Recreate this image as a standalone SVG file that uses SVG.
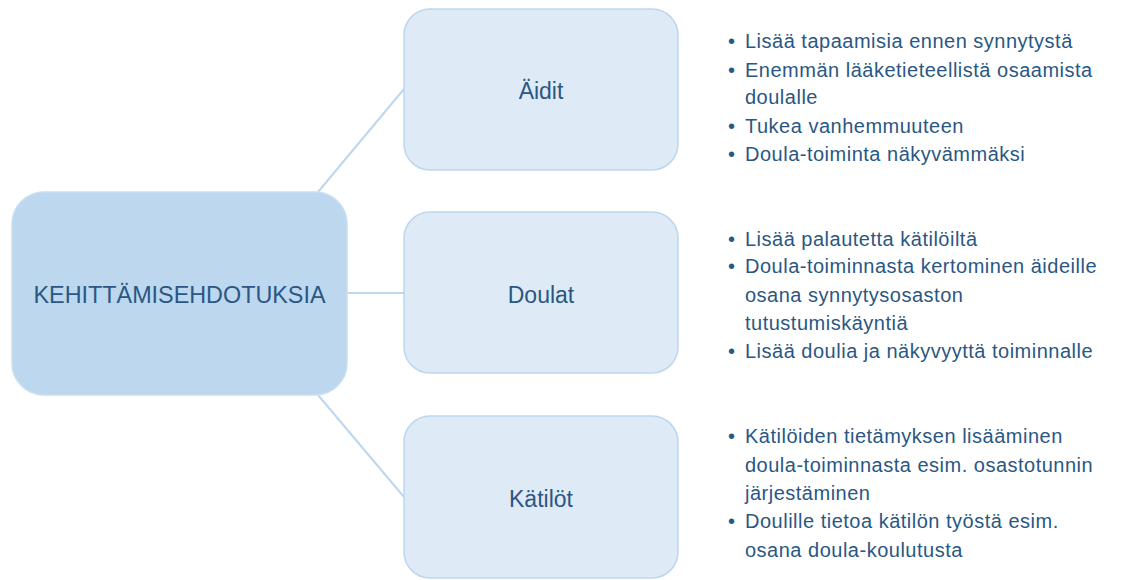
<svg xmlns="http://www.w3.org/2000/svg" width="1122" height="580" viewBox="0 0 1122 580">
<style>
.main{fill:#BDD7EE;stroke:#C9DEF1;stroke-width:1.5}
.sub{fill:#DEEAF6;stroke:#BDD7EE;stroke-width:1.5}
.lbl{font-family:"Liberation Sans",Arial,sans-serif;fill:#2A5783;text-anchor:middle}
.bul{font-family:"Liberation Sans",Arial,sans-serif;fill:#2A5783;font-size:20px;letter-spacing:0.5px}
.con{stroke:#BDD7EE;stroke-width:2;fill:none}
</style>
<rect width="1122" height="580" fill="#FFFFFF"/>
<g id="connectors">
<line class="con" x1="318" y1="192" x2="404" y2="89"/>
<line class="con" x1="347" y1="293" x2="404" y2="293"/>
<line class="con" x1="318" y1="395" x2="404" y2="497"/>
</g>
<g id="root">
<rect class="main" x="12" y="192" width="335" height="203" rx="32"/>
<text class="lbl" x="179.5" y="303" font-size="24" textLength="292" lengthAdjust="spacingAndGlyphs">KEHITTÄMISEHDOTUKSIA</text>
</g>
<g id="aidit">
<rect class="sub" x="404" y="9" width="274" height="161" rx="26"/>
<text class="lbl" x="541" y="99" font-size="23">Äidit</text>
</g>
<g id="doulat">
<rect class="sub" x="404" y="212" width="274" height="161" rx="26"/>
<text class="lbl" x="541" y="303" font-size="23">Doulat</text>
</g>
<g id="katilot">
<rect class="sub" x="404" y="416" width="274" height="162" rx="26"/>
<text class="lbl" x="541" y="507" font-size="23">Kätilöt</text>
</g>
<g id="aidit-list" class="bul">
<text x="728" y="48">•</text><text x="745" y="48">Lisää tapaamisia ennen synnytystä</text>
<text x="728" y="77">•</text><text x="745" y="77">Enemmän lääketieteellistä osaamista</text>
<text x="745" y="104">doulalle</text>
<text x="728" y="133">•</text><text x="745" y="133">Tukea vanhemmuuteen</text>
<text x="728" y="161">•</text><text x="745" y="161">Doula-toiminta näkyvämmäksi</text>
</g>
<g id="doulat-list" class="bul">
<text x="728" y="246">•</text><text x="745" y="246">Lisää palautetta kätilöiltä</text>
<text x="728" y="273">•</text><text x="745" y="273">Doula-toiminnasta kertominen äideille</text>
<text x="745" y="302">osana synnytysosaston</text>
<text x="745" y="330">tutustumiskäyntiä</text>
<text x="728" y="358">•</text><text x="745" y="358">Lisää doulia ja näkyvyyttä toiminnalle</text>
</g>
<g id="katilot-list" class="bul">
<text x="728" y="443">•</text><text x="745" y="443">Kätilöiden tietämyksen lisääminen</text>
<text x="745" y="472">doula-toiminnasta esim. osastotunnin</text>
<text x="745" y="500">järjestäminen</text>
<text x="728" y="528">•</text><text x="745" y="528">Doulille tietoa kätilön työstä esim.</text>
<text x="745" y="557">osana doula-koulutusta</text>
</g>
</svg>
